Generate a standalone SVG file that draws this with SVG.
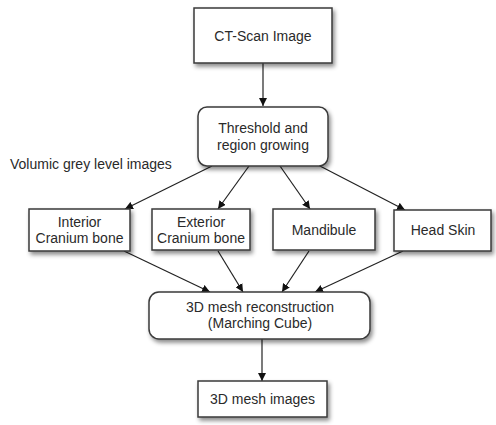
<svg xmlns="http://www.w3.org/2000/svg" width="496" height="425" viewBox="0 0 496 425">
<style>
.box{fill:#fff;stroke:#3a3a3a;stroke-width:1.5;filter:url(#sh)}
.t{font-family:"Liberation Sans",Arial,sans-serif;font-size:14px;fill:#2a2a2a;text-anchor:middle}
.c{stroke:#222;stroke-width:1.2;fill:none;marker-end:url(#ah)}
</style>
<defs>
<filter id="sh" x="-10%" y="-20%" width="130%" height="150%">
<feDropShadow dx="2" dy="3" stdDeviation="2" flood-color="#000" flood-opacity="0.45"/>
</filter>
<marker id="ah" viewBox="0 0 10 10" refX="10" refY="5" markerWidth="8" markerHeight="8" markerUnits="userSpaceOnUse" orient="auto">
<path d="M0,0 L10,5 L0,10 z" fill="#111"/>
</marker>
</defs>
<rect width="496" height="425" fill="#fff"/>
<g id="connectors">
<line class="c" x1="263" y1="63" x2="263" y2="106"/>
<line class="c" x1="212" y1="166" x2="125" y2="209"/>
<line class="c" x1="249" y1="166" x2="218" y2="209"/>
<line class="c" x1="280" y1="166" x2="310" y2="209"/>
<line class="c" x1="318" y1="165" x2="405" y2="210"/>
<line class="c" x1="124" y1="251" x2="210" y2="292"/>
<line class="c" x1="218" y1="251" x2="243" y2="292"/>
<line class="c" x1="309" y1="251" x2="282" y2="292"/>
<line class="c" x1="403" y1="251" x2="315" y2="292"/>
<line class="c" x1="262" y1="339" x2="262" y2="381"/>
</g>
<g id="ct-scan">
<rect class="box" x="194" y="8" width="138" height="55"/>
<text class="t" x="263" y="41">CT-Scan Image</text>
</g>
<g id="threshold">
<rect class="box" x="198" y="107" width="130" height="59" rx="9"/>
<text class="t" x="263" y="133">Threshold and</text>
<text class="t" x="263" y="150">region growing</text>
</g>
<g id="volumic-label">
<text class="t" x="10" y="169" style="text-anchor:start">Volumic grey level images</text>
</g>
<g id="interior">
<rect class="box" x="29" y="209" width="101" height="42"/>
<text class="t" x="79.5" y="227">Interior</text>
<text class="t" x="79.5" y="243">Cranium bone</text>
</g>
<g id="exterior">
<rect class="box" x="152" y="209" width="98" height="41"/>
<text class="t" x="201" y="227">Exterior</text>
<text class="t" x="201" y="243">Cranium bone</text>
</g>
<g id="mandibule">
<rect class="box" x="273" y="209" width="102" height="41"/>
<text class="t" x="324" y="235">Mandibule</text>
</g>
<g id="head-skin">
<rect class="box" x="394" y="210" width="97" height="41"/>
<text class="t" x="443" y="235">Head Skin</text>
</g>
<g id="mesh-reconstruction">
<rect class="box" x="149" y="292" width="221" height="47" rx="10"/>
<text class="t" x="260" y="312">3D mesh reconstruction</text>
<text class="t" x="260" y="328">(Marching Cube)</text>
</g>
<g id="mesh-images">
<rect class="box" x="198" y="381" width="129" height="36"/>
<text class="t" x="262.5" y="404">3D mesh images</text>
</g>
</svg>
